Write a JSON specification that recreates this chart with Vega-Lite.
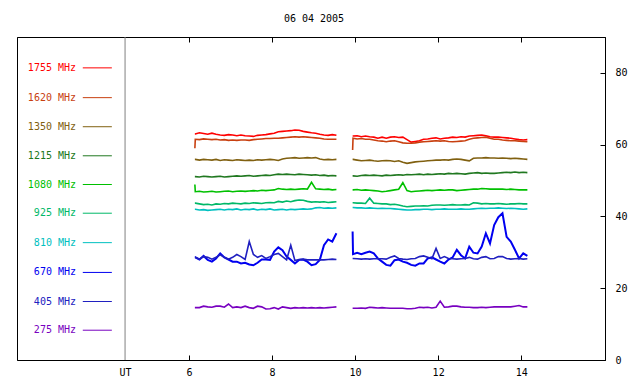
{
"$schema":"https://vega.github.io/schema/vega-lite/v6.json",
"width":588,"height":323,
"autosize":{"type":"none"},
"padding":{"left":17,"top":37,"right":35,"bottom":24},
"background":"white",
"config":{"view":{"stroke":"black","strokeWidth":1},"font":"DejaVu Sans Mono","axis":{"labelFont":"DejaVu Sans Mono","labelFontSize":10,"labelColor":"black","domainColor":"black","tickColor":"black","grid":false,"title":null}},
"title":{"text":"06 04 2005","fontSize":10,"fontWeight":"normal","font":"DejaVu Sans Mono","color":"black","offset":13,"dx":3},
"datasets":{
"series":[
{"t":6.14,"g":1,"1755":63.0,"1620":59.0,"1350":55.9,"1215":51.1,"1080":48.9,"925":43.7,"810":42.0,"670":28.6,"405":28.6,"275":14.6},
{"t":6.15,"g":1,"1755":63.0,"1620":61.5,"1350":55.9,"1215":51.1,"1080":46.9,"925":43.7,"810":42.0,"670":28.6,"405":28.6,"275":14.6},
{"t":6.25,"g":1,"1755":63.3,"1620":61.4,"1350":55.7,"1215":51.0,"1080":47.0,"925":43.5,"810":41.8,"670":28.0,"405":28.1,"275":14.6},
{"t":6.35,"g":1,"1755":63.1,"1620":61.6,"1350":55.9,"1215":51.2,"1080":46.8,"925":43.3,"810":41.9,"670":29.0,"405":28.8,"275":15.0},
{"t":6.45,"g":1,"1755":62.9,"1620":61.5,"1350":55.8,"1215":51.1,"1080":46.9,"925":43.4,"810":41.7,"670":27.9,"405":28.6,"275":14.8},
{"t":6.55,"g":1,"1755":63.2,"1620":61.4,"1350":55.7,"1215":51.0,"1080":47.0,"925":43.2,"810":41.8,"670":27.4,"405":28.1,"275":14.7},
{"t":6.65,"g":1,"1755":62.9,"1620":61.5,"1350":55.9,"1215":51.1,"1080":46.8,"925":43.5,"810":41.9,"670":28.3,"405":28.6,"275":15.0},
{"t":6.75,"g":1,"1755":62.7,"1620":61.3,"1350":55.6,"1215":51.2,"1080":46.9,"925":43.4,"810":42.0,"670":29.7,"405":29.3,"275":15.0},
{"t":6.85,"g":1,"1755":62.6,"1620":61.4,"1350":55.8,"1215":51.0,"1080":47.0,"925":43.6,"810":41.8,"670":28.6,"405":28.6,"275":14.7},
{"t":6.95,"g":1,"1755":62.8,"1620":61.2,"1350":55.7,"1215":51.1,"1080":47.1,"925":43.5,"810":42.0,"670":28.0,"405":28.1,"275":15.6},
{"t":7.05,"g":1,"1755":62.7,"1620":61.3,"1350":55.6,"1215":51.2,"1080":46.9,"925":43.7,"810":41.9,"670":27.4,"405":28.6,"275":14.6},
{"t":7.15,"g":1,"1755":62.5,"1620":61.2,"1350":55.8,"1215":51.3,"1080":47.0,"925":43.6,"810":42.1,"670":27.4,"405":29.4,"275":14.8},
{"t":7.25,"g":1,"1755":62.7,"1620":61.3,"1350":55.7,"1215":51.2,"1080":47.1,"925":43.5,"810":41.8,"670":26.9,"405":28.8,"275":14.6},
{"t":7.35,"g":1,"1755":62.5,"1620":61.3,"1350":55.6,"1215":51.3,"1080":47.0,"925":43.7,"810":42.0,"670":27.1,"405":28.0,"275":15.0},
{"t":7.45,"g":1,"1755":62.4,"1620":61.2,"1350":55.7,"1215":51.4,"1080":47.1,"925":43.6,"810":41.9,"670":26.6,"405":33.0,"275":14.6},
{"t":7.55,"g":1,"1755":62.3,"1620":61.4,"1350":55.6,"1215":51.2,"1080":47.2,"925":43.8,"810":42.1,"670":26.4,"405":29.4,"275":14.4},
{"t":7.65,"g":1,"1755":62.6,"1620":61.5,"1350":55.8,"1215":51.3,"1080":47.1,"925":43.7,"810":41.8,"670":27.1,"405":28.6,"275":15.0},
{"t":7.75,"g":1,"1755":62.7,"1620":61.6,"1350":55.7,"1215":51.4,"1080":47.3,"925":43.6,"810":42.0,"670":28.0,"405":29.1,"275":14.8},
{"t":7.85,"g":1,"1755":62.8,"1620":61.7,"1350":55.8,"1215":51.5,"1080":47.2,"925":43.8,"810":41.9,"670":28.0,"405":28.3,"275":14.2},
{"t":7.95,"g":1,"1755":63.0,"1620":61.7,"1350":55.9,"1215":51.4,"1080":47.3,"925":43.9,"810":42.1,"670":27.9,"405":28.8,"275":14.3},
{"t":8.05,"g":1,"1755":63.2,"1620":61.8,"1350":55.8,"1215":51.6,"1080":47.4,"925":43.8,"810":41.8,"670":30.2,"405":29.4,"275":14.6},
{"t":8.15,"g":1,"1755":63.6,"1620":61.8,"1350":55.6,"1215":51.8,"1080":47.8,"925":44.2,"810":41.9,"670":31.4,"405":29.7,"275":14.2},
{"t":8.25,"g":1,"1755":63.7,"1620":61.9,"1350":56.0,"1215":51.7,"1080":47.6,"925":44.0,"810":42.0,"670":30.6,"405":28.8,"275":14.8},
{"t":8.35,"g":1,"1755":63.8,"1620":62.0,"1350":56.2,"1215":51.8,"1080":47.5,"925":44.3,"810":41.8,"670":28.8,"405":27.9,"275":14.6},
{"t":8.45,"g":1,"1755":63.9,"1620":62.1,"1350":56.3,"1215":51.7,"1080":47.6,"925":44.1,"810":42.0,"670":27.9,"405":32.0,"275":14.4},
{"t":8.55,"g":1,"1755":64.1,"1620":62.2,"1350":56.4,"1215":51.6,"1080":47.5,"925":44.4,"810":41.9,"670":26.9,"405":27.7,"275":14.6},
{"t":8.65,"g":1,"1755":64.0,"1620":62.1,"1350":56.2,"1215":51.8,"1080":47.6,"925":44.6,"810":42.0,"670":27.9,"405":28.0,"275":14.5},
{"t":8.75,"g":1,"1755":63.7,"1620":62.2,"1350":56.3,"1215":51.7,"1080":47.7,"925":44.5,"810":42.1,"670":28.0,"405":28.1,"275":14.6},
{"t":8.85,"g":1,"1755":63.5,"1620":62.1,"1350":56.4,"1215":51.6,"1080":47.6,"925":44.2,"810":42.0,"670":27.4,"405":27.9,"275":14.5},
{"t":8.95,"g":1,"1755":63.3,"1620":62.0,"1350":56.3,"1215":51.5,"1080":49.5,"925":44.0,"810":42.1,"670":26.4,"405":27.9,"275":14.6},
{"t":9.05,"g":1,"1755":63.2,"1620":61.9,"1350":56.4,"1215":51.6,"1080":47.7,"925":44.1,"810":42.4,"670":26.7,"405":27.9,"275":14.5},
{"t":9.15,"g":1,"1755":62.9,"1620":61.8,"1350":56.0,"1215":51.4,"1080":47.6,"925":44.0,"810":42.5,"670":27.9,"405":27.9,"275":14.6},
{"t":9.25,"g":1,"1755":62.7,"1620":61.6,"1350":55.8,"1215":51.5,"1080":47.5,"925":44.1,"810":42.3,"670":32.0,"405":27.9,"275":14.5},
{"t":9.35,"g":1,"1755":62.6,"1620":61.5,"1350":55.9,"1215":51.3,"1080":47.6,"925":43.9,"810":42.4,"670":33.6,"405":28.0,"275":14.6},
{"t":9.45,"g":1,"1755":62.8,"1620":61.5,"1350":55.8,"1215":51.4,"1080":47.4,"925":44.0,"810":42.3,"670":33.0,"405":28.1,"275":14.7},
{"t":9.55,"g":1,"1755":62.6,"1620":61.5,"1350":55.9,"1215":51.3,"1080":47.5,"925":44.1,"810":42.4,"670":35.3,"405":28.0,"275":14.8},
{"t":9.94,"g":2,"1755":62.4,"1620":58.5,"1350":55.9,"1215":51.3,"1080":47.4,"925":43.8,"810":42.5,"670":35.8,"405":28.3,"275":14.4},
{"t":9.95,"g":2,"1755":62.4,"1620":61.8,"1350":55.9,"1215":51.3,"1080":47.4,"925":43.8,"810":42.5,"670":29.5,"405":28.3,"275":14.4},
{"t":10.05,"g":2,"1755":62.5,"1620":61.6,"1350":55.7,"1215":51.2,"1080":47.5,"925":43.7,"810":42.4,"670":29.9,"405":28.2,"275":14.4},
{"t":10.15,"g":2,"1755":62.2,"1620":61.7,"1350":55.5,"1215":51.4,"1080":47.3,"925":43.7,"810":42.4,"670":29.5,"405":28.1,"275":14.5},
{"t":10.25,"g":2,"1755":62.4,"1620":61.5,"1350":55.6,"1215":51.5,"1080":47.4,"925":43.6,"810":42.3,"670":29.9,"405":28.2,"275":14.4},
{"t":10.35,"g":2,"1755":62.2,"1620":61.5,"1350":55.7,"1215":51.4,"1080":47.3,"925":45.1,"810":42.4,"670":30.2,"405":28.1,"275":14.7},
{"t":10.45,"g":2,"1755":62.1,"1620":61.3,"1350":55.5,"1215":51.5,"1080":47.2,"925":43.7,"810":42.3,"670":29.7,"405":28.2,"275":14.6},
{"t":10.55,"g":2,"1755":61.8,"1620":61.1,"1350":55.4,"1215":51.4,"1080":47.1,"925":43.6,"810":42.2,"670":28.3,"405":28.2,"275":14.5},
{"t":10.65,"g":2,"1755":62.1,"1620":61.0,"1350":55.5,"1215":51.3,"1080":46.9,"925":43.5,"810":42.3,"670":27.4,"405":28.2,"275":14.6},
{"t":10.75,"g":2,"1755":61.8,"1620":60.8,"1350":55.6,"1215":51.5,"1080":47.0,"925":43.5,"810":42.2,"670":26.5,"405":28.1,"275":14.5},
{"t":10.85,"g":2,"1755":62.1,"1620":61.0,"1350":55.5,"1215":51.4,"1080":47.2,"925":43.3,"810":42.2,"670":26.3,"405":28.6,"275":14.4},
{"t":10.95,"g":2,"1755":62.2,"1620":61.1,"1350":55.3,"1215":51.5,"1080":47.4,"925":43.4,"810":42.1,"670":27.8,"405":29.0,"275":14.4},
{"t":11.05,"g":2,"1755":62.0,"1620":60.8,"1350":55.5,"1215":51.6,"1080":47.6,"925":43.2,"810":42.0,"670":28.0,"405":28.3,"275":14.4},
{"t":11.15,"g":2,"1755":62.1,"1620":60.5,"1350":55.1,"1215":51.5,"1080":49.4,"925":42.9,"810":41.9,"670":27.4,"405":28.1,"275":14.4},
{"t":11.25,"g":2,"1755":61.4,"1620":60.4,"1350":54.8,"1215":51.7,"1080":47.2,"925":42.7,"810":41.8,"670":27.1,"405":28.0,"275":14.3},
{"t":11.35,"g":2,"1755":60.7,"1620":60.4,"1350":55.0,"1215":51.6,"1080":46.9,"925":42.8,"810":41.8,"670":26.5,"405":28.2,"275":14.3},
{"t":11.45,"g":2,"1755":60.9,"1620":60.5,"1350":55.2,"1215":51.7,"1080":47.0,"925":42.9,"810":41.9,"670":26.3,"405":28.3,"275":14.4},
{"t":11.55,"g":2,"1755":61.1,"1620":60.7,"1350":55.3,"1215":51.8,"1080":47.1,"925":42.9,"810":41.9,"670":26.9,"405":28.8,"275":14.7},
{"t":11.65,"g":2,"1755":61.5,"1620":60.8,"1350":55.4,"1215":51.6,"1080":47.2,"925":43.0,"810":42.0,"670":26.9,"405":29.0,"275":14.6},
{"t":11.75,"g":2,"1755":61.6,"1620":60.9,"1350":55.5,"1215":51.8,"1080":47.3,"925":42.9,"810":42.0,"670":28.3,"405":28.6,"275":14.7},
{"t":11.85,"g":2,"1755":61.8,"1620":61.0,"1350":55.6,"1215":51.7,"1080":47.2,"925":43.1,"810":41.9,"670":28.6,"405":28.2,"275":14.5},
{"t":11.95,"g":2,"1755":61.9,"1620":61.1,"1350":55.7,"1215":51.8,"1080":47.3,"925":43.2,"810":42.0,"670":28.0,"405":31.1,"275":14.7},
{"t":12.05,"g":2,"1755":61.6,"1620":61.0,"1350":55.7,"1215":51.9,"1080":47.4,"925":43.2,"810":42.0,"670":27.4,"405":28.3,"275":16.4},
{"t":12.15,"g":2,"1755":61.8,"1620":61.1,"1350":55.8,"1215":51.8,"1080":47.3,"925":43.1,"810":42.1,"670":26.9,"405":28.8,"275":14.7},
{"t":12.25,"g":2,"1755":61.9,"1620":60.9,"1350":55.7,"1215":52.0,"1080":47.4,"925":43.2,"810":42.0,"670":28.0,"405":28.3,"275":14.8},
{"t":12.35,"g":2,"1755":62.1,"1620":60.8,"1350":55.9,"1215":51.9,"1080":47.4,"925":43.3,"810":42.0,"670":28.6,"405":28.2,"275":15.0},
{"t":12.45,"g":2,"1755":62.0,"1620":60.9,"1350":56.0,"1215":52.0,"1080":47.2,"925":43.2,"810":42.0,"670":30.7,"405":28.1,"275":15.0},
{"t":12.55,"g":2,"1755":62.2,"1620":61.0,"1350":55.9,"1215":51.9,"1080":47.3,"925":43.2,"810":42.1,"670":29.2,"405":28.2,"275":14.8},
{"t":12.65,"g":2,"1755":62.1,"1620":61.1,"1350":55.7,"1215":51.8,"1080":47.4,"925":43.3,"810":42.0,"670":28.3,"405":28.3,"275":14.7},
{"t":12.75,"g":2,"1755":62.4,"1620":61.5,"1350":55.5,"1215":52.0,"1080":47.5,"925":43.2,"810":42.0,"670":31.6,"405":28.6,"275":14.7},
{"t":12.85,"g":2,"1755":62.5,"1620":61.8,"1350":56.2,"1215":52.1,"1080":47.6,"925":43.8,"810":42.1,"670":29.9,"405":28.2,"275":14.6},
{"t":12.95,"g":2,"1755":62.6,"1620":61.9,"1350":56.3,"1215":52.2,"1080":47.6,"925":43.7,"810":42.2,"670":29.7,"405":28.1,"275":14.6},
{"t":13.05,"g":2,"1755":62.7,"1620":62.0,"1350":56.3,"1215":52.0,"1080":47.8,"925":43.5,"810":42.3,"670":31.6,"405":28.6,"275":14.7},
{"t":13.15,"g":2,"1755":62.5,"1620":62.1,"1350":56.4,"1215":52.1,"1080":47.7,"925":43.6,"810":42.2,"670":35.3,"405":28.8,"275":14.6},
{"t":13.25,"g":2,"1755":62.2,"1620":61.8,"1350":56.3,"1215":52.0,"1080":47.6,"925":43.5,"810":42.3,"670":32.5,"405":28.2,"275":14.7},
{"t":13.35,"g":2,"1755":62.1,"1620":61.5,"1350":56.3,"1215":52.0,"1080":47.6,"925":43.5,"810":42.3,"670":37.6,"405":28.3,"275":14.8},
{"t":13.45,"g":2,"1755":62.1,"1620":61.5,"1350":56.2,"1215":52.1,"1080":47.6,"925":43.6,"810":42.4,"670":39.8,"405":28.8,"275":14.8},
{"t":13.55,"g":2,"1755":62.0,"1620":61.3,"1350":56.3,"1215":52.2,"1080":47.6,"925":43.5,"810":42.3,"670":40.9,"405":28.8,"275":14.8},
{"t":13.65,"g":2,"1755":61.9,"1620":61.2,"1350":56.2,"1215":52.3,"1080":47.5,"925":43.4,"810":42.2,"670":34.3,"405":28.3,"275":14.8},
{"t":13.75,"g":2,"1755":61.8,"1620":61.1,"1350":56.1,"1215":52.2,"1080":47.6,"925":43.5,"810":42.3,"670":33.0,"405":28.1,"275":14.8},
{"t":13.85,"g":2,"1755":61.6,"1620":61.1,"1350":56.2,"1215":52.4,"1080":47.5,"925":43.5,"810":42.2,"670":30.7,"405":28.2,"275":15.0},
{"t":13.95,"g":2,"1755":61.4,"1620":61.0,"1350":56.1,"1215":52.2,"1080":47.4,"925":43.6,"810":42.1,"670":28.3,"405":28.3,"275":15.2},
{"t":14.05,"g":2,"1755":61.3,"1620":60.9,"1350":56.0,"1215":52.3,"1080":47.4,"925":43.5,"810":42.0,"670":29.7,"405":28.1,"275":14.8},
{"t":14.15,"g":2,"1755":61.4,"1620":60.8,"1350":55.9,"1215":52.2,"1080":47.4,"925":43.5,"810":42.1,"670":29.0,"405":28.2,"275":14.8}
],
"legend":[
{"s":"1755","lab":"1755 MHz","v":81.4},
{"s":"1620","lab":"1620 MHz","v":73.1},
{"s":"1350","lab":"1350 MHz","v":65.0},
{"s":"1215","lab":"1215 MHz","v":56.9},
{"s":"1080","lab":"1080 MHz","v":48.9},
{"s":"925","lab":"925 MHz","v":40.9},
{"s":"810","lab":"810 MHz","v":32.7},
{"s":"670","lab":"670 MHz","v":24.4},
{"s":"405","lab":"405 MHz","v":16.3},
{"s":"275","lab":"275 MHz","v":8.3}
],
"sep":[{"t":4.458,"v":0,"v2":90}]
},
"resolve":{"axis":{"x":"independent","y":"independent"}},
"layer":[
{"data":{"name":"sep"},
 "mark":{"type":"rule","color":"#808080","strokeWidth":1},
 "encoding":{
  "x":{"field":"t","type":"quantitative","scale":{"domain":[1.855,16.02],"nice":false,"zero":false},
       "axis":{"orient":"top","values":[6,8,10,12,14],"labels":false,"tickSize":-5,"domain":true,"title":null}},
  "y":{"field":"v","type":"quantitative","scale":{"domain":[0,90],"nice":false},"axis":null},
  "y2":{"field":"v2"}}},
{"data":{"name":"series"},
 "transform":[{"fold":["1755","1620","1350","1215","1080","925","810","670","405","275"],"as":["s","v"]}],
 "mark":{"type":"line","strokeJoin":"miter","strokeCap":"butt"},
 "encoding":{
  "x":{"field":"t","type":"quantitative","scale":{"domain":[1.855,16.02],"nice":false,"zero":false},
       "axis":{"orient":"bottom","values":[4.458,6,8,10,12,14],"tickSize":-5,"labelPadding":12,"title":null,
               "labelExpr":"datum.value < 5 ? 'UT' : datum.label",
               "tickColor":{"condition":{"test":"datum.value < 5","value":"transparent"},"value":"black"}}},
  "y":{"field":"v","type":"quantitative","scale":{"domain":[0,90],"nice":false,"zero":true},
       "axis":{"orient":"right","values":[0,20,40,60,80],"tickSize":-5,"labelPadding":15,"title":null,"labelBaseline":"middle"}},
  "color":{"field":"s","type":"nominal","legend":null,
           "scale":{"domain":["1755","1620","1350","1215","1080","925","810","670","405","275"],
                    "range":["#ff0000","#c84010","#806010","#207820","#00c000","#00b868","#00c0c0","#0000f0","#2020c0","#7800c0"]}},
  "detail":{"field":"g"},
  "strokeWidth":{"condition":{"test":"datum.s === '670'","value":2},"value":1.6}}},
{"data":{"name":"legend"},
 "mark":{"type":"text","align":"right","baseline":"middle","fontSize":10,"font":"DejaVu Sans Mono"},
 "encoding":{
  "x":{"datum":3.277,"type":"quantitative","axis":null},
  "y":{"field":"v","type":"quantitative","axis":null},
  "text":{"field":"lab"},
  "color":{"field":"s","type":"nominal","legend":null}}},
{"data":{"name":"legend"},
 "mark":{"type":"rule","strokeWidth":1},
 "encoding":{
  "x":{"datum":3.44,"type":"quantitative","axis":null},
  "x2":{"datum":4.14},
  "y":{"field":"v","type":"quantitative","axis":null},
  "color":{"field":"s","type":"nominal","legend":null}}}
]
}
